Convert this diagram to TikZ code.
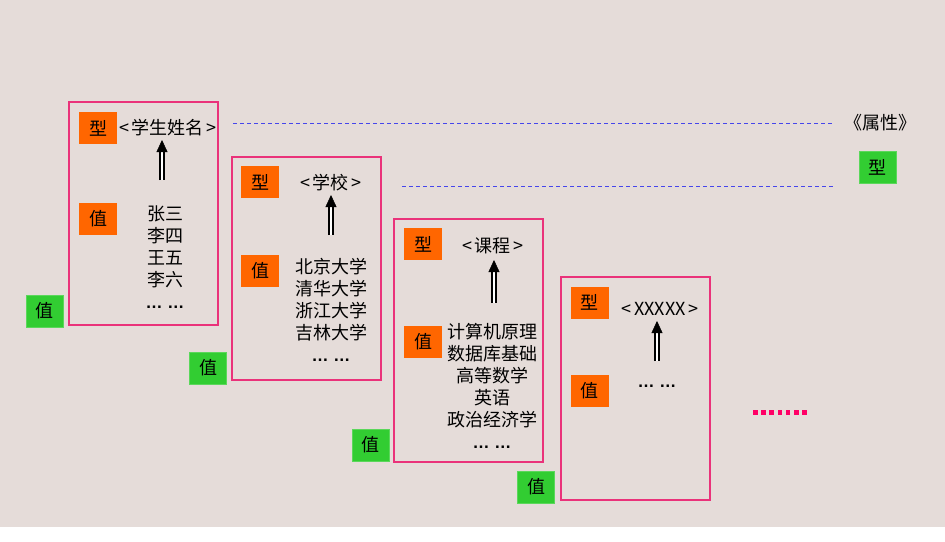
\documentclass[tikz,border=0pt]{standalone}
\usepackage{fontspec}
\setmainfont{Noto Sans CJK SC}
\newfontfamily\lat{Liberation Sans}
\usetikzlibrary{arrows.meta}
\definecolor{bgc}{RGB}{229,220,217}
\definecolor{pinkb}{RGB}{234,50,122}
\definecolor{orng}{RGB}{255,102,0}
\definecolor{grn}{RGB}{50,205,50}
\definecolor{dblue}{RGB}{70,70,235}
\definecolor{dotc}{RGB}{255,0,102}
\tikzset{
  frame/.style={draw=pinkb, line width=1.3pt},
  tagbox/.style={fill=orng, minimum width=38pt, minimum height=32pt, inner sep=0pt, font=\fontsize{18}{20}\selectfont},
  gtag/.style={fill=grn, draw=grn!80!white, line width=0.6pt, minimum width=37pt, minimum height=32pt, inner sep=0pt, font=\fontsize{18}{20}\selectfont},
  lbl/.style={font=\fontsize{18}{20}\selectfont, inner sep=1pt},
  vals/.style={align=center, font=\fontsize{18}{22}\selectfont, inner sep=0pt},
  shaft/.style={draw=black, double=white, double distance=2.8pt, line width=1.2pt},
  head/.style={-{Triangle[length=12pt,width=11pt]}, line width=0.5pt},
  guide/.style={draw=dblue, dash pattern=on 4pt off 3pt, line width=0.9pt},
}
\newcommand{\dd}{{\lat\bfseries\fontsize{17}{22}\selectfont …\;…}}
\begin{document}
\begin{tikzpicture}[x=1pt,y=-1pt]
  \useasboundingbox (0,0) rectangle (945,541);
  \fill[white] (0,0) rectangle (945,541);
  \fill[bgc] (0,0) rectangle (945,527);

  % frames
  \draw[frame] (69,102) rectangle (218,325);
  \draw[frame] (232,157) rectangle (381,380);
  \draw[frame] (394,219) rectangle (543,462);
  \draw[frame] (561,277) rectangle (710,500);

  % dashed guides
  \coordinate (g1a) at (233,123);
  \coordinate (g1b) at (833,123);
  \coordinate (g2a) at (402,186);
  \coordinate (g2b) at (833,186);
  \draw[guide] (g1a) -- (g1b);
  \draw[guide] (g2a) -- (g2b);

  % box 1
  \node[tagbox] (x1) at (98,128) {型};
  \node[tagbox] (y1) at (98,219) {值};
  \node[lbl] (t1) at (168,128) {<\,学生姓名\,>};
  \node[vals] (v1) at (165,257) {张三\\李四\\王五\\李六\\\dd};
  \coordinate (s1) at (162,180);
  \coordinate (e1) at (162,140);
  \coordinate (b1) at (162,151);
  \draw[shaft] (s1) -- (b1);
  \draw[head] ([yshift=-11pt]e1) -- (e1);

  % box 2
  \node[tagbox] (x2) at (260,182) {型};
  \node[tagbox] (y2) at (260,271) {值};
  \node[lbl] (t2) at (331,183) {<\,学校\,>};
  \node[vals] (v2) at (331,310) {北京大学\\清华大学\\浙江大学\\吉林大学\\\dd};
  \coordinate (s2) at (331,235);
  \coordinate (e2) at (331,195);
  \coordinate (b2) at (331,206);
  \draw[shaft] (s2) -- (b2);
  \draw[head] ([yshift=-11pt]e2) -- (e2);

  % box 3
  \node[tagbox] (x3) at (423,244) {型};
  \node[tagbox] (y3) at (423,341.5) {值};
  \node[lbl] (t3) at (493,246) {<\,课程\,>};
  \node[vals] (v3) at (492,386) {计算机原理\\数据库基础\\高等数学\\英语\\政治经济学\\\dd};
  \coordinate (s3) at (494,303);
  \coordinate (e3) at (494,260);
  \coordinate (b3) at (494,271);
  \draw[shaft] (s3) -- (b3);
  \draw[head] ([yshift=-11pt]e3) -- (e3);

  % box 4
  \node[tagbox] (x4) at (589.5,302.5) {型};
  \node[tagbox] (y4) at (589.5,391) {值};
  \node[lbl] (t4) at (660,309) {<\,XXXXX\,>};
  \node[vals] (v4) at (657,386) {\dd};
  \coordinate (s4) at (657,361);
  \coordinate (e4) at (657,321);
  \coordinate (b4) at (657,332);
  \draw[shaft] (s4) -- (b4);
  \draw[head] ([yshift=-11pt]e4) -- (e4);

  % green value tags
  \node[gtag] (w1) at (44.5,311) {值};
  \node[gtag] (w2) at (208,368) {值};
  \node[gtag] (w3) at (370.5,445) {值};
  \node[gtag] (w4) at (536,487) {值};

  % legend
  \node[lbl] (attr) at (880,123) {《属性》};
  \node[gtag] (gt) at (877.5,167.5) {型};

  % pink dotted
  \foreach \i in {0,...,6} {
    \fill[dotc] (753+8.2*\i,410) rectangle (757.5+8.2*\i,414.5);
  }
\end{tikzpicture}
\end{document}
